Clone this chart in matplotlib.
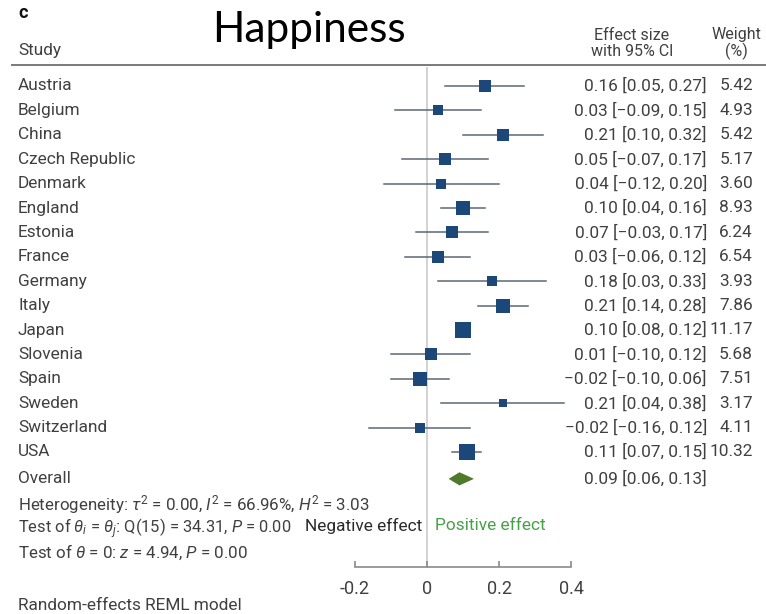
import numpy as np
import matplotlib
matplotlib.use("Agg")
from matplotlib import pyplot as plt

# data
studies = ["Austria", "Belgium", "China", "Czech Republic", "Denmark", "England",
           "Estonia", "France", "Germany", "Italy", "Japan", "Slovenia", "Spain",
           "Sweden", "Switzerland", "USA"]
effect = [0.16, 0.03, 0.21, 0.05, 0.04, 0.10, 0.07, 0.03, 0.18, 0.21, 0.10, 0.01, -0.02, 0.21, -0.02, 0.11]
ci_low = [0.05, -0.09, 0.10, -0.07, -0.12, 0.04, -0.03, -0.06, 0.03, 0.14, 0.08, -0.10, -0.10, 0.04, -0.16, 0.07]
ci_high = [0.27, 0.15, 0.32, 0.17, 0.20, 0.16, 0.17, 0.12, 0.33, 0.28, 0.12, 0.12, 0.06, 0.38, 0.12, 0.15]
weights = [5.42, 4.93, 5.42, 5.17, 3.60, 8.93, 6.24, 6.54, 3.93, 7.86, 11.17, 5.68, 7.51, 3.17, 4.11, 10.32]
overall = [0.09, 0.06, 0.13]  # estimate, low, high
xticks = [-0.2, 0, 0.2, 0.4]

plt.rcParams['font.family'] = ['Roboto', 'DejaVu Sans']
plt.rcParams['mathtext.fontset'] = 'custom'
plt.rcParams['mathtext.rm'] = 'Roboto'
plt.rcParams['mathtext.it'] = 'Roboto:italic'
plt.rcParams['mathtext.bf'] = 'Roboto:bold'

W, H = 766, 614
fig = plt.figure(figsize=(W / 100, H / 100), dpi=100)
ax = fig.add_axes([0, 0, 1, 1])

# pixel layout: zero at x=427, 361 px per unit; first row at y=86, 24.4 px per row
x0, xs = 427, 361
y0, ys = 86, 24.4
ax.set_xlim(-x0 / xs, (W - x0) / xs)
ax.set_ylim((H - y0) / ys, -y0 / ys)

def fy(py):
    return 1 - py / H

def rowy(py):
    return (py - y0) / ys

txt = '#404040'
fs = 12.4
ytr = ax.get_yaxis_transform()

rows = np.arange(len(studies))
axis_row = rowy(567)

# reference line at zero
ax.plot([0, 0], [rowy(68), axis_row], color='#cfcfcf', lw=1.3, zorder=1)

# CIs and squares
for i in rows:
    ax.plot([ci_low[i], ci_high[i]], [i, i], color='#5c6875', lw=1.1, zorder=2)
    ax.plot(effect[i], i, marker='s', color='#1b4878', mew=0,
            ms=4.9 * np.sqrt(weights[i]) * 0.72, zorder=3)
    ax.text(18 / W, i, studies[i], transform=ytr, ha='left', va='center', fontsize=fs, color=txt)
    lab = f"{effect[i]:.2f} [{ci_low[i]:.2f}, {ci_high[i]:.2f}]".replace('-', '\u2212')
    ax.text(707 / W, i, lab, transform=ytr, ha='right', va='center', fontsize=fs, color=txt)
    ax.text(753 / W, i, f"{weights[i]:.2f}", transform=ytr, ha='right', va='center', fontsize=fs, color=txt)

# overall diamond
orow = len(studies) + 0.1
dh = 0.27
est, lo, hi = overall
ax.fill([lo, est, hi, est], [orow, orow - dh, orow, orow + dh], color='#4e7a2c', lw=0, zorder=3)
ax.text(18 / W, orow, "Overall", transform=ytr, ha='left', va='center', fontsize=fs, color=txt)
ax.text(707 / W, orow, f"{est:.2f} [{lo:.2f}, {hi:.2f}]", transform=ytr, ha='right', va='center',
        fontsize=fs, color=txt)

# heterogeneity stats
ax.text(18 / W, rowy(505), r"Heterogeneity: $\tau^2$ = 0.00, $I^2$ = 66.96%, $H^2$ = 3.03",
        transform=ytr, ha='left', va='center', fontsize=12.2, color=txt)
ax.text(18 / W, rowy(529), r"Test of $\theta_i$ = $\theta_j$: Q(15) = 34.31, $P$ = 0.00",
        transform=ytr, ha='left', va='center', fontsize=11.9, color=txt)
ax.text(18 / W, rowy(552), r"Test of $\theta$ = 0: $z$ = 4.94, $P$ = 0.00",
        transform=ytr, ha='left', va='center', fontsize=12.2, color=txt)
ax.text(18 / W, rowy(605), "Random-effects REML model",
        transform=ytr, ha='left', va='center', fontsize=fs, color=txt)
ax.text(422 / W, rowy(526), "Negative effect", transform=ytr, ha='right', va='center',
        fontsize=fs, color='#2a2a2a')
ax.text(435 / W, rowy(526), "Positive effect", transform=ytr, ha='left', va='center',
        fontsize=fs, color='#45a04a')

# x axis
for s in ['top', 'left', 'right']:
    ax.spines[s].set_visible(False)
ax.spines['bottom'].set_position(('data', axis_row))
ax.spines['bottom'].set_bounds(xticks[0], xticks[-1])
ax.spines['bottom'].set_color('#8a8a8a')
ax.spines['bottom'].set_linewidth(1.2)
ax.set_xticks(xticks)
ax.set_xticklabels(['-0.2', '0', '0.2', '0.4'])
ax.tick_params(axis='x', direction='in', length=4, width=1.2, color='#8a8a8a',
               labelsize=13, labelcolor=txt, pad=9)
ax.set_yticks([])

# header
fig.text(18 / W, fy(13), "c", ha='left', va='center', fontsize=13, fontweight='bold', color='#111111')
fig.text(212 / W, fy(42), "Happiness", ha='left', va='baseline', fontsize=30.5, color='black',
         family=['Lato', 'DejaVu Sans'])
fig.text(18 / W, fy(51), "Study", ha='left', va='center', fontsize=fs, color=txt)
fig.text(632 / W, fy(35), "Effect size", ha='center', va='center', fontsize=11.5, color=txt)
fig.text(632 / W, fy(51), "with 95% CI", ha='center', va='center', fontsize=11.5, color=txt)
fig.text(736 / W, fy(35), "Weight", ha='center', va='center', fontsize=11.5, color=txt)
fig.text(736 / W, fy(51), "(%)", ha='center', va='center', fontsize=11.5, color=txt)
fig.add_artist(plt.Line2D([12 / W, 1], [fy(65), fy(65)], color='#7a7a7a', lw=1.4))

fig.savefig('out.png', dpi=100)
